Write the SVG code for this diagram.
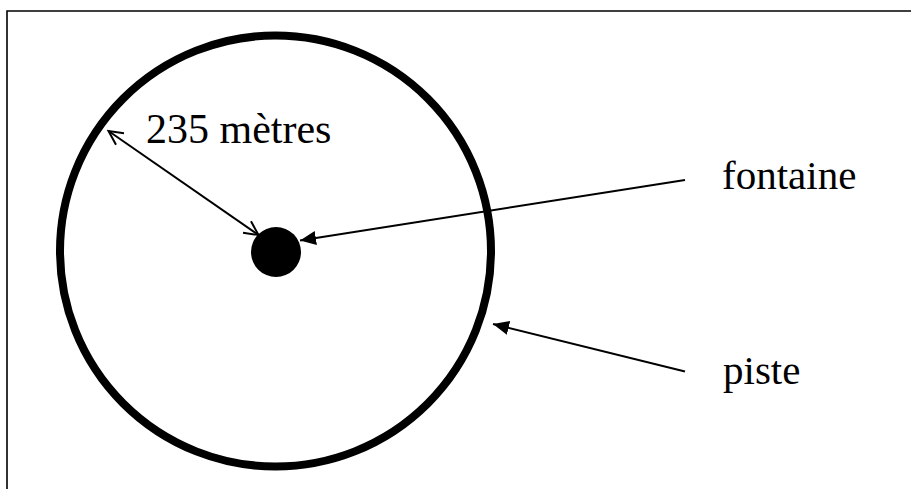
<svg xmlns="http://www.w3.org/2000/svg" width="911" height="489" viewBox="0 0 911 489">
<style>
.lbl{font-family:"Liberation Serif","Times New Roman",serif;font-size:41px;fill:#000}
.ln{stroke:#000;stroke-width:2;fill:none}
</style>
<defs>
<marker id="fill" markerUnits="userSpaceOnUse" markerWidth="18" markerHeight="14" refX="16" refY="7" orient="auto">
<path d="M0,0 L16,7 L0,14 Z" fill="#000"/>
</marker>
<marker id="open" markerUnits="userSpaceOnUse" markerWidth="18" markerHeight="18" refX="16" refY="9" orient="auto-start-reverse">
<path d="M2,2 L16,9 L2,16" fill="none" stroke="#000" stroke-width="2"/>
</marker>
</defs>
<rect width="911" height="489" fill="#fff"/>
<path d="M7,489 V11 H911" fill="none" stroke="#000" stroke-width="1.6"/>
<g id="piste">
<circle cx="275.5" cy="251" r="215.5" fill="none" stroke="#000" stroke-width="8"/>
</g>
<g id="fontaine">
<circle cx="276" cy="252" r="25" fill="#000"/>
</g>
<g id="connectors">
<line class="ln" x1="108.5" y1="131" x2="258.5" y2="235" marker-start="url(#open)" marker-end="url(#open)"/>
<line class="ln" x1="685" y1="180" x2="300" y2="240.5" marker-end="url(#fill)"/>
<line class="ln" x1="685" y1="371.5" x2="493" y2="324" marker-end="url(#fill)"/>
</g>
<g id="labels">
<text class="lbl" x="146" y="143" style="font-size:42px">235 mètres</text>
<text class="lbl" x="722" y="189">fontaine</text>
<text class="lbl" x="723" y="384">piste</text>
</g>
</svg>
